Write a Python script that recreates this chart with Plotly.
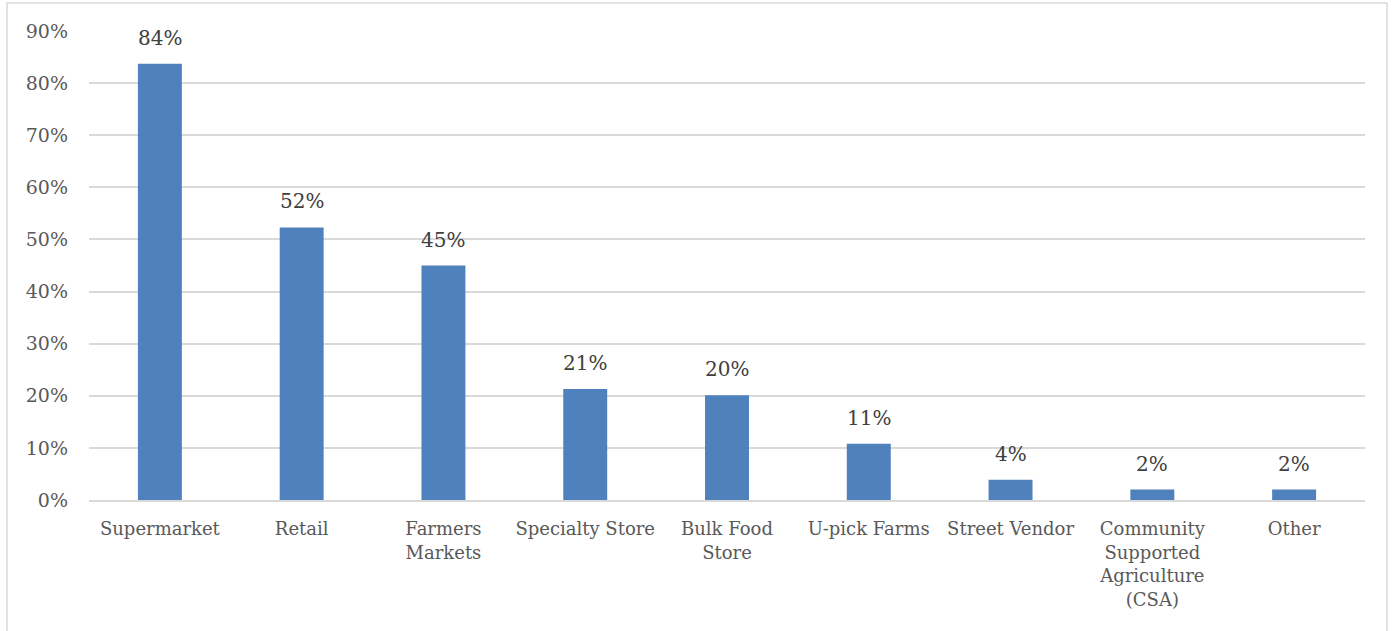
import plotly.graph_objects as go

# Share of respondents by place of purchase
categories = [
    "Supermarket",
    "Retail",
    "Farmers<br>Markets",
    "Specialty Store",
    "Bulk Food<br>Store",
    "U-pick Farms",
    "Street Vendor",
    "Community<br>Supported<br>Agriculture<br>(CSA)",
    "Other",
]
shares = [0.837, 0.523, 0.450, 0.213, 0.201, 0.108, 0.039, 0.020, 0.020]

y_ticks = [0, 0.1, 0.2, 0.3, 0.4, 0.5, 0.6, 0.7, 0.8, 0.9]
y_tick_text = ["0%", "10%", "20%", "30%", "40%", "50%", "60%", "70%", "80%", "90%"]

BAR = "#4f81bd"
GRID = "#d9d9d9"
FONT = "DejaVu Serif"

W, H = 1395, 631
ML, MR, MT, MB = 89, 30, 31, 131

fig = go.Figure()
fig.add_trace(
    go.Bar(
        x=categories,
        y=shares,
        marker=dict(color=BAR, line=dict(width=0)),
        width=0.31,
        hoverinfo="skip",
    )
)

# value labels above each bar
for cat, val in zip(categories, shares):
    fig.add_annotation(
        x=cat,
        y=val,
        text=f"{val:.0%}",
        showarrow=False,
        yanchor="bottom",
        yshift=12,
        font=dict(family=FONT, size=20, color="#404040"),
    )

# outer chart border (open at the bottom edge of the page)
pw = W - ML - MR
ph = H - MT - MB
fig.add_shape(
    type="rect",
    xref="paper",
    yref="paper",
    x0=(7 - ML) / pw,
    x1=(1387 - ML) / pw,
    y0=-(H + 10 - MT - ph) / ph,
    y1=1 + (MT - 3) / ph,
    line=dict(color=GRID, width=1.5),
    fillcolor="rgba(0,0,0,0)",
    layer="below",
)

fig.update_layout(
    width=W,
    height=H,
    margin=dict(l=ML, r=MR, t=MT, b=MB),
    paper_bgcolor="white",
    plot_bgcolor="white",
    showlegend=False,
    bargap=0.69,
    font=dict(family=FONT, size=18, color="#595959"),
    xaxis=dict(
        showgrid=False,
        showline=True,
        linecolor=GRID,
        linewidth=1.5,
        ticks="",
        tickfont=dict(family=FONT, size=18, color="#595959"),
        ticklabelstandoff=12,
        fixedrange=True,
    ),
    yaxis=dict(
        range=[0, 0.9],
        tickvals=y_ticks,
        ticktext=y_tick_text,
        showgrid=True,
        gridcolor=GRID,
        gridwidth=1.5,
        zeroline=False,
        showline=False,
        ticks="",
        tickfont=dict(family=FONT, size=19, color="#595959"),
        ticklabelstandoff=20,
        fixedrange=True,
    ),
)

fig.write_html("out.html")
